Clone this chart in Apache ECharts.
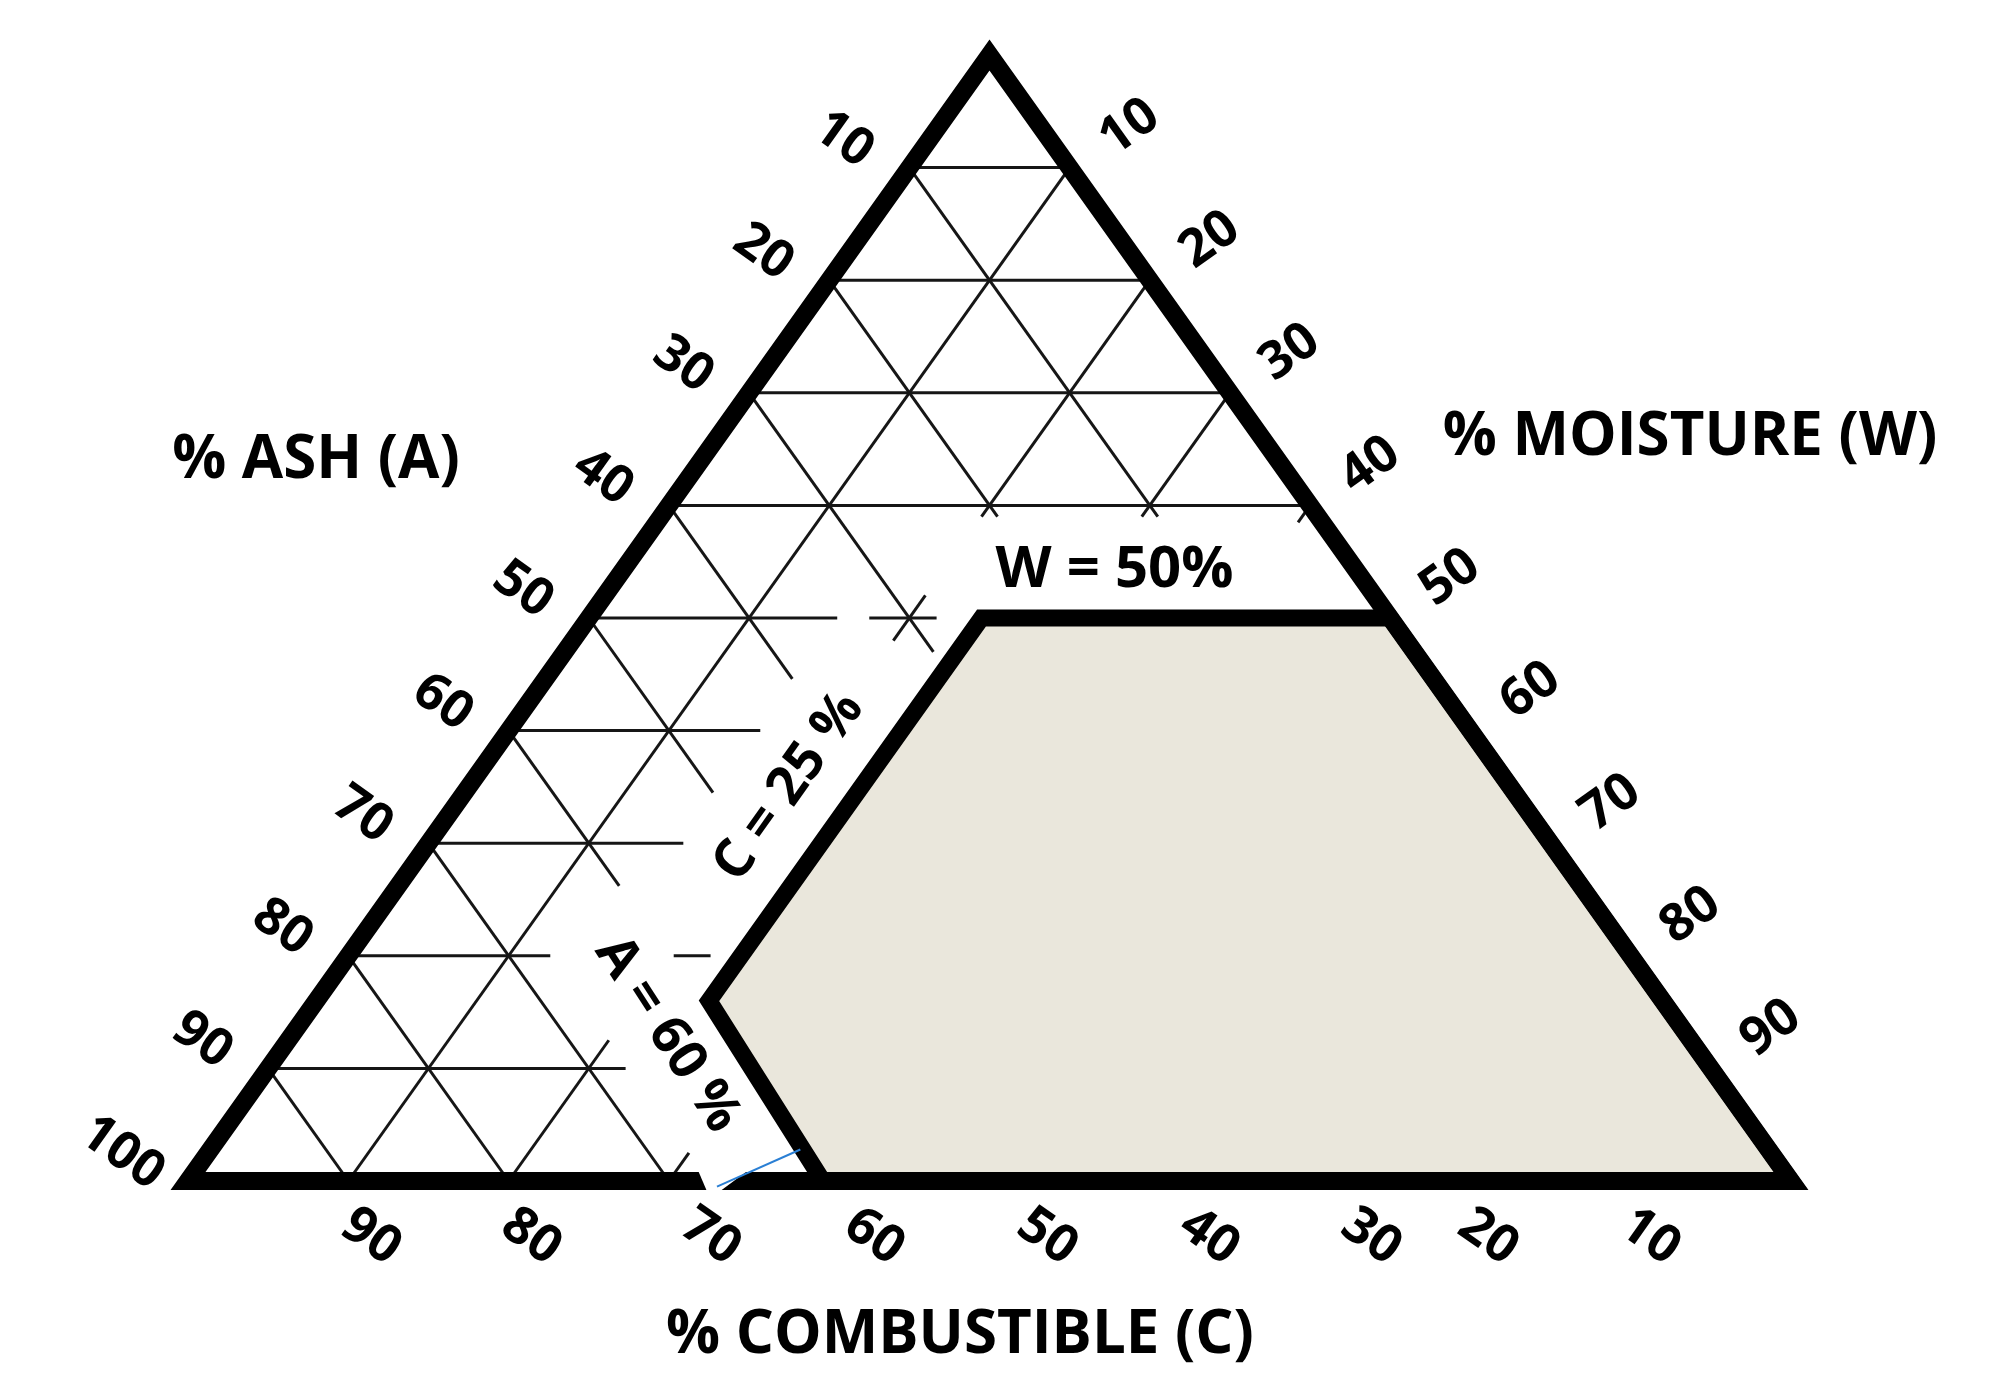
<!DOCTYPE html>
<html>
<head>
<meta charset="utf-8">
<title>Tanner triangle</title>
<script src="https://cdn.jsdelivr.net/npm/echarts@6/dist/echarts.min.js"></script>
<style>
  html, body { margin: 0; background: #fff; }
  #chart { width: 1991px; height: 1397px; }
</style>
</head>
<body>
<div id="chart"></div>
<script>
// grid lines (hand drawn, partly erased near the region)
// moisture lines: [W, C from, C to]
var moistureLines = [[90, 0, 10], [80, 0, 20], [70, 0, 30], [60, 0, 40], [50, 0, 15.5], [50, 17.5, 21.7],
  [40, 0, 15.7], [30, 0, 15.9], [20, 0, 12.6], [20, 20.3, 22.6], [10, 0, 22.3]];
// ash lines: [A, C from, C to]
var ashLines = [[10, 0, 31], [20, 0, 21], [30, 0, 23], [40, 0, 15.4], [50, 0, 15.5], [60, 0, 13.8],
  [70, 0, 30], [80, 0, 20], [90, 0, 10]];
// combustible lines: [C, W from, W to]
var combLines = [[10, 0, 90], [20, 0, 12.5], [20, 48, 52], [20, 59, 80], [30, 0, 2.5], [30, 59, 70], [40, 58.5, 60]];

// combustion region, vertices as [A, C, W]
var region = [[25.5, 24.5, 50], [0, 50, 50], [0, 100, 0], [60.4, 39.6, 0], [59.5, 24.5, 16]];
// outer triangle, vertices as [A, C, W]
var corners = [[100, 0, 0], [0, 0, 100], [0, 100, 0]];

// tick labels
var ashTicks = ['10', '20', '30', '40', '50', '60', '70', '80', '90', '100'];
var moistTicks = ['10', '20', '30', '40', '50', '60', '70', '80', '90'];
var combTicks = ['90', '80', '70', '60', '50', '40', '30', '20', '10'];
var combTickPos = [11.4, 21.4, 32.6, 42.8, 53.6, 63.7, 73.8, 81.1, 91.2];

// annotations
var noteText = ['W = 50%', 'C = 25 %', 'A = 60 %'];
var notePos = [[15.1, 30.7, 54.2], [45, 20, 35], [63.6, 23.4, 13]];
var noteRot = [0, 54.6, -57];

var FONT = '"Open Sans", "Noto Sans", sans-serif';

// ternary -> plane (x along the base, y = moisture)
function tern(a, c, w) { return [c + w / 2, w]; }

var segs = [];
moistureLines.forEach(function (l) {
  segs.push(tern(100 - l[0] - l[1], l[1], l[0]).concat(tern(100 - l[0] - l[2], l[2], l[0])));
});
ashLines.forEach(function (l) {
  segs.push(tern(l[0], l[1], 100 - l[0] - l[1]).concat(tern(l[0], l[2], 100 - l[0] - l[2])));
});
combLines.forEach(function (l) {
  segs.push(tern(100 - l[0] - l[1], l[0], l[1]).concat(tern(100 - l[0] - l[2], l[0], l[2])));
});

// text marks: position in data, pixel offset, rotation
var texts = [];
ashTicks.forEach(function (t, i) {
  var k = (i + 1) * 10;
  texts.push({ pos: tern(k, 0, 100 - k), text: t, dx: -66, dy: -28, rot: -35.5, size: 52 });
});
moistTicks.forEach(function (t, i) {
  var k = (i + 1) * 10;
  texts.push({ pos: tern(0, k, 100 - k), text: t, dx: 60, dy: -40, rot: 35.5, size: 52 });
});
combTicks.forEach(function (t, i) {
  texts.push({ pos: [combTickPos[i], 0], text: t, dx: 0, dy: 56, rot: -35, size: 52 });
});
noteText.forEach(function (t, i) {
  var p = notePos[i];
  texts.push({ pos: tern(p[0], p[1], p[2]), text: t, dx: 0, dy: 0, rot: noteRot[i], size: i === 0 ? 58 : 54 });
});

var chart = echarts.init(document.getElementById('chart'));

var titleStyle = { fontSize: 60, fontWeight: 'bold', fontFamily: FONT, fill: '#000', align: 'center', verticalAlign: 'middle' };

chart.setOption({
  animation: false,
  backgroundColor: '#fff',
  grid: { left: 188, right: 200, top: 55, bottom: 216 },
  xAxis: { type: 'value', min: 0, max: 100, show: false },
  yAxis: { type: 'value', min: 0, max: 100, show: false },
  graphic: [
    { type: 'text', x: 316, y: 461, style: Object.assign({ text: '% ASH (A)' }, titleStyle) },
    { type: 'text', x: 1690, y: 438, style: Object.assign({ text: '% MOISTURE (W)' }, titleStyle) },
    { type: 'text', x: 960, y: 1336, style: Object.assign({ text: '% COMBUSTIBLE (C)' }, titleStyle) }
  ],
  series: [
    {
      // hand drawn grid
      type: 'custom',
      coordinateSystem: 'cartesian2d',
      encode: { x: [0, 2], y: [1, 3] },
      data: segs,
      z: 1,
      renderItem: function (params, api) {
        var p1 = api.coord([api.value(0), api.value(1)]);
        var p2 = api.coord([api.value(2), api.value(3)]);
        return {
          type: 'line',
          shape: { x1: p1[0], y1: p1[1], x2: p2[0], y2: p2[1] },
          style: { stroke: '#161616', lineWidth: 3 }
        };
      }
    },
    {
      // combustion region
      type: 'custom',
      coordinateSystem: 'cartesian2d',
      data: [0],
      z: 2,
      renderItem: function (params, api) {
        var pts = region.map(function (t) { return api.coord(tern(t[0], t[1], t[2])); });
        return {
          type: 'polygon',
          shape: { points: pts },
          style: { fill: '#eae7dc', stroke: '#000', lineWidth: 17, lineJoin: 'miter' }
        };
      }
    },
    {
      // triangle frame
      type: 'custom',
      coordinateSystem: 'cartesian2d',
      data: [0],
      z: 3,
      renderItem: function (params, api) {
        var pts = corners.map(function (t) { return api.coord(tern(t[0], t[1], t[2])); });
        var g1 = api.coord([31.8, 1]), g2 = api.coord([32.4, -1]), g3 = api.coord([33.1, -1]), g4 = api.coord([35, 1]);
        var b1 = api.coord([33, -0.5]), b2 = api.coord([38.2, 2.8]);
        return {
          type: 'group',
          children: [
            { type: 'polygon', shape: { points: pts }, style: { fill: 'none', stroke: '#000', lineWidth: 18, lineJoin: 'miter' } },
            { type: 'polygon', shape: { points: [g1, g2, g3, g4] }, style: { fill: '#fff' } },
            { type: 'line', shape: { x1: b1[0], y1: b1[1], x2: b2[0], y2: b2[1] }, style: { stroke: '#2a7fd4', lineWidth: 2 } }
          ]
        };
      }
    },
    {
      // tick labels and annotations
      type: 'custom',
      coordinateSystem: 'cartesian2d',
      data: texts.map(function (t) { return t.pos; }),
      z: 5,
      renderItem: function (params, api) {
        var t = texts[params.dataIndex];
        var p = api.coord([api.value(0), api.value(1)]);
        return {
          type: 'text',
          x: p[0] + t.dx,
          y: p[1] + t.dy,
          rotation: t.rot * Math.PI / 180,
          style: {
            text: t.text, fontSize: t.size, fontWeight: 'bold', fontFamily: FONT,
            fill: '#000', align: 'center', verticalAlign: 'middle'
          }
        };
      }
    }
  ]
});
</script>
</body>
</html>
